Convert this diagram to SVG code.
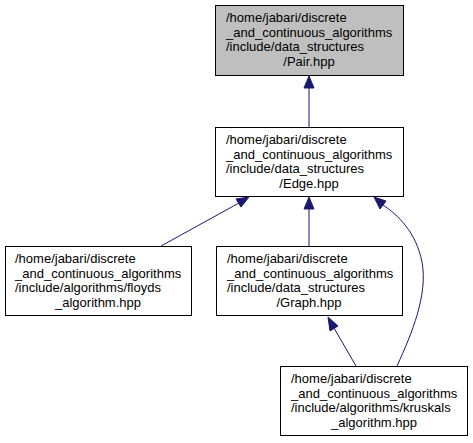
<svg xmlns="http://www.w3.org/2000/svg" width="473" height="443" viewBox="0 0 473 443">
<style>
.box{fill:#ffffff;stroke:#000000;stroke-width:1}
.cur{fill:#bfbfbf}
text{font-family:"Liberation Sans",Arial,sans-serif;font-size:13px;fill:#000000}
.e{fill:none;stroke:#191970;stroke-width:1}
.h{fill:#191970;stroke:#191970;stroke-width:1}
</style>
<rect width="473" height="443" fill="#ffffff"/>
<g id="connectors">
<path class="e" d="M309,88L309,127"/>
<polygon class="h" points="304,88 309,76 314,88"/>
<path class="e" d="M161,246L239,203"/>
<polygon class="h" points="236,199 249,197 241,207"/>
<path class="e" d="M309,209L309,246"/>
<polygon class="h" points="304,209 309,197 314,209"/>
<path class="e" d="M397,366C412,333 428,295 422,262C416,232 398,215 383,205"/>
<polygon class="h" points="386,201 374,197 380,209"/>
<path class="e" d="M356,366L334,328"/>
<polygon class="h" points="330,331 328,317 338,326"/>
</g>
<g id="node-pair">
<rect class="box cur" x="215.5" y="5.5" width="188" height="70"/>
<text x="226" y="22">/home/jabari/discrete</text>
<text x="226" y="36.5">_and_continuous_algorithms</text>
<text x="226" y="51">/include/data_structures</text>
<text x="309" y="65.5" text-anchor="middle">/Pair.hpp</text>
</g>
<g id="node-edge">
<rect class="box" x="215.5" y="127.5" width="188" height="69"/>
<text x="226" y="144">/home/jabari/discrete</text>
<text x="226" y="158.5">_and_continuous_algorithms</text>
<text x="226" y="173">/include/data_structures</text>
<text x="309" y="187.5" text-anchor="middle">/Edge.hpp</text>
</g>
<g id="node-floyds">
<rect class="box" x="5.5" y="246.5" width="186" height="69"/>
<text x="15" y="263">/home/jabari/discrete</text>
<text x="15" y="277.5">_and_continuous_algorithms</text>
<text x="15" y="292">/include/algorithms/floyds</text>
<text x="98" y="306.5" text-anchor="middle">_algorithm.hpp</text>
</g>
<g id="node-graph">
<rect class="box" x="216.5" y="246.5" width="186" height="69"/>
<text x="227" y="263">/home/jabari/discrete</text>
<text x="227" y="277.5">_and_continuous_algorithms</text>
<text x="227" y="292">/include/data_structures</text>
<text x="309" y="306.5" text-anchor="middle">/Graph.hpp</text>
</g>
<g id="node-kruskals">
<rect class="box" x="280.5" y="366.5" width="187" height="69"/>
<text x="291" y="383">/home/jabari/discrete</text>
<text x="291" y="397.5">_and_continuous_algorithms</text>
<text x="291" y="412">/include/algorithms/kruskals</text>
<text x="374" y="426.5" text-anchor="middle">_algorithm.hpp</text>
</g>
</svg>
